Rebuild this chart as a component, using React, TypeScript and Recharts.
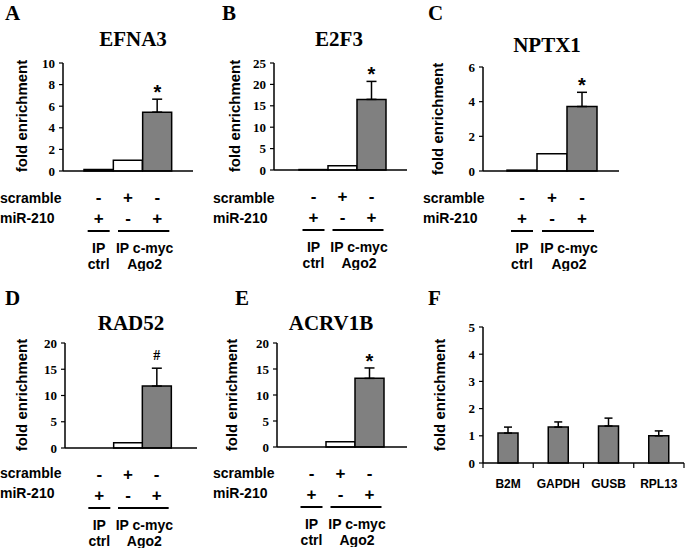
import { BarChart, Bar, XAxis, YAxis, ErrorBar, Cell, ReferenceDot } from "recharts";

// conditions shared by panels A-E
const conditions = ["ctrl", "scramble", "mir210"];
const scrambleSigns = ["-", "+", "-"];
const mirSigns = ["+", "-", "+"];
const groupTop = ["IP", "IP c-myc"];
const groupBottom = ["ctrl", "Ago2"];
const barFills = ["#ffffff", "#ffffff", "#808080"];

const efna3Values = [0.15, 1, 5.45];
const efna3Errors = [null, null, 1.2];
const e2f3Values = [0.1, 1, 16.5];
const e2f3Errors = [null, null, 4.2];
const nptx1Values = [0.05, 1, 3.72];
const nptx1Errors = [null, null, 0.82];
const rad52Values = [0, 1, 11.8];
const rad52Errors = [null, null, 3.4];
const acrv1bValues = [0, 1, 13.2];
const acrv1bErrors = [null, null, 2.0];

// panel F
const controlGenes = ["B2M", "GAPDH", "GUSB", "RPL13"];
const controlValues = [1.1, 1.32, 1.36, 1.0];
const controlErrors = [0.22, 0.19, 0.29, 0.18];

const SERIF = "'Liberation Serif', 'Times New Roman', serif";
const SANS = "'Liberation Sans', Arial, sans-serif";
const AXIS = { stroke: "#000", strokeWidth: 1.5 };
const Y_AXIS_W = 45;

type PanelProps = {
  values: number[];
  errors: (number | null)[];
  mark: string;
  ticks: number[];
  x0: number;
  x1: number;
  yTop: number;
  yBot: number;
  padL: number;
  padR: number;
};

function GeneChart({ values, errors, mark, ticks, x0, x1, yTop, yBot, padL, padR }: PanelProps) {
  const data = conditions.map((c, i) => ({
    cond: c,
    value: values[i],
    err: errors[i] == null ? null : [0, errors[i]],
  }));
  const band = (x1 - x0 - padL - padR) / conditions.length;
  const top = 14;
  const xh = 100;
  const width = Y_AXIS_W + (x1 - x0) + 5;
  const height = yBot - yTop + top + xh;
  const last = data.length - 1;

  const tick = (props: any) => {
    const { x, y, index } = props;
    const tx = { fontFamily: SANS, fontWeight: 700, fontSize: 17, fill: "#000" };
    const gx = { fontFamily: SANS, fontWeight: 700, fontSize: 14, fill: "#000" };
    return (
      <g>
        <text x={x} y={y + 26} textAnchor="middle" dominantBaseline="central" {...tx}>{scrambleSigns[index]}</text>
        <text x={x} y={y + 47} textAnchor="middle" dominantBaseline="central" {...tx}>{mirSigns[index]}</text>
        {index === 0 && (
          <g>
            <line x1={x - 11} x2={x + 11} y1={y + 60} y2={y + 60} stroke="#000" strokeWidth={2} />
            <text x={x} y={y + 77} textAnchor="middle" dominantBaseline="central" {...gx}>{groupTop[0]}</text>
            <text x={x} y={y + 93} textAnchor="middle" dominantBaseline="central" {...gx}>{groupBottom[0]}</text>
          </g>
        )}
        {index === 1 && (
          <g>
            <line x1={x - 10} x2={x + band + 12} y1={y + 60} y2={y + 60} stroke="#000" strokeWidth={2} />
            <text x={x + band / 2 + 2} y={y + 77} textAnchor="middle" dominantBaseline="central" {...gx}>{groupTop[1]}</text>
            <text x={x + band / 2 + 2} y={y + 93} textAnchor="middle" dominantBaseline="central" {...gx}>{groupBottom[1]}</text>
          </g>
        )}
      </g>
    );
  };

  return (
    <div style={{ position: "absolute", left: x0 - Y_AXIS_W, top: yTop - top }}>
      <BarChart width={width} height={height} data={data} margin={{ top, right: 5, left: 0, bottom: 0 }} barCategoryGap={0}>
        <XAxis
          dataKey="cond"
          padding={{ left: padL, right: padR }}
          axisLine={AXIS}
          tickLine={false}
          tickSize={0}
          tickMargin={0}
          interval={0}
          height={xh}
          tick={tick}
        />
        <YAxis
          width={Y_AXIS_W}
          domain={[0, ticks[ticks.length - 1]]}
          ticks={ticks}
          interval={0}
          axisLine={AXIS}
          tickLine={{ stroke: "#000", strokeWidth: 1.2 }}
          tickSize={4}
          tickMargin={4}
          tick={{ fontFamily: SERIF, fontWeight: 700, fontSize: 13, fill: "#000" }}
        />
        <Bar dataKey="value" stroke="#000" strokeWidth={1.5} isAnimationActive={false}>
          {data.map((d, i) => (
            <Cell key={d.cond} fill={barFills[i]} />
          ))}
          <ErrorBar dataKey="err" width={5} stroke="#000" strokeWidth={1.5} direction="y" />
        </Bar>
        <ReferenceDot
          x={conditions[last]}
          y={values[last] + (errors[last] ?? 0)}
          r={0}
          stroke="none"
          label={{
            value: mark,
            position: "top",
            offset: mark === "#" ? 8 : 0,
            fill: "#000",
            fontFamily: mark === "#" ? SERIF : SANS,
            fontWeight: 700,
            fontSize: mark === "#" ? 14 : 20,
          }}
        />
      </BarChart>
    </div>
  );
}

function ControlChart() {
  const data = controlGenes.map((g, i) => ({ gene: g, value: controlValues[i], err: [0, controlErrors[i]] }));
  const x0 = 483;
  const x1 = 684;
  const yTop = 327;
  const yBot = 463;
  const top = 10;
  const xh = 40;
  const band = (x1 - x0) / controlGenes.length;
  const tick = (props: any) => {
    const { x, y, index, payload } = props;
    return (
      <g>
        <line x1={x - band / 2} x2={x - band / 2} y1={y} y2={y + 5} stroke="#000" strokeWidth={1.2} />
        {index === controlGenes.length - 1 && (
          <line x1={x + band / 2} x2={x + band / 2} y1={y} y2={y + 5} stroke="#000" strokeWidth={1.2} />
        )}
        <text x={x} y={y + 21} textAnchor="middle" dominantBaseline="central" fontFamily={SANS} fontWeight={700} fontSize={12} fill="#000">
          {payload.value}
        </text>
      </g>
    );
  };
  return (
    <div style={{ position: "absolute", left: x0 - Y_AXIS_W, top: yTop - top }}>
      <BarChart width={Y_AXIS_W + (x1 - x0) + 1} height={yBot - yTop + top + xh} data={data} margin={{ top, right: 1, left: 0, bottom: 0 }}>
        <XAxis dataKey="gene" axisLine={AXIS} tickLine={false} tickSize={0} tickMargin={0} interval={0} height={xh} tick={tick} />
        <YAxis
          width={Y_AXIS_W}
          domain={[0, 5]}
          ticks={[0, 1, 2, 3, 4, 5]}
          interval={0}
          axisLine={AXIS}
          tickLine={{ stroke: "#000", strokeWidth: 1.2 }}
          tickSize={4}
          tickMargin={4}
          tick={{ fontFamily: SERIF, fontWeight: 700, fontSize: 13, fill: "#000" }}
        />
        <Bar dataKey="value" fill="#808080" stroke="#000" strokeWidth={1.5} barSize={20} isAnimationActive={false}>
          <ErrorBar dataKey="err" width={4} stroke="#000" strokeWidth={1.5} direction="y" />
        </Bar>
      </BarChart>
    </div>
  );
}

const letters = [
  { t: "A", x: 5, y: 20 },
  { t: "B", x: 222, y: 20 },
  { t: "C", x: 428, y: 20 },
  { t: "D", x: 5, y: 305 },
  { t: "E", x: 235, y: 305 },
  { t: "F", x: 428, y: 305 },
];
const titles = [
  { t: "EFNA3", x: 133, y: 46 },
  { t: "E2F3", x: 339, y: 46 },
  { t: "NPTX1", x: 547, y: 52 },
  { t: "RAD52", x: 131, y: 330 },
  { t: "ACRV1B", x: 331, y: 330 },
];
const rowLabels = [
  { x: 0, y: 198 },
  { x: 213, y: 198 },
  { x: 423, y: 198 },
  { x: 0, y: 473 },
  { x: 213, y: 473 },
];
const yLabels = [
  { x: 21, y: 116 },
  { x: 234, y: 116 },
  { x: 437, y: 119 },
  { x: 21, y: 395 },
  { x: 231, y: 395 },
  { x: 439, y: 395 },
];

export default function App() {
  return (
    <div style={{ position: "absolute", left: 0, top: 0, width: 685, height: 549, background: "#fff", overflow: "hidden" }}>
      <GeneChart values={efna3Values} errors={efna3Errors} mark="*" ticks={[0, 2, 4, 6, 8, 10]} x0={63} x1={193} yTop={63} yBot={171} padL={21} padR={21} />
      <GeneChart values={e2f3Values} errors={e2f3Errors} mark="*" ticks={[0, 5, 10, 15, 20, 25]} x0={274} x1={407} yTop={63} yBot={170} padL={25} padR={21} />
      <GeneChart values={nptx1Values} errors={nptx1Errors} mark="*" ticks={[0, 2, 4, 6]} x0={483} x1={619} yTop={67} yBot={171} padL={24} padR={22} />
      <GeneChart values={rad52Values} errors={rad52Errors} mark="#" ticks={[0, 5, 10, 15, 20]} x0={65} x1={197} yTop={343} yBot={448} padL={20} padR={26} />
      <GeneChart values={acrv1bValues} errors={acrv1bErrors} mark="*" ticks={[0, 5, 10, 15, 20]} x0={277} x1={407} yTop={343} yBot={447} padL={20} padR={23} />
      <ControlChart />
      <svg width={685} height={549} style={{ position: "absolute", left: 0, top: 0, pointerEvents: "none" }}>
        {letters.map((l) => (
          <text key={l.t} x={l.x} y={l.y} fontFamily={SERIF} fontWeight={700} fontSize={21} fill="#000">{l.t}</text>
        ))}
        {titles.map((l) => (
          <text key={l.t} x={l.x} y={l.y} textAnchor="middle" fontFamily={SERIF} fontWeight={700} fontSize={21} fill="#000">{l.t}</text>
        ))}
        {rowLabels.map((l, i) => (
          <g key={i} fontFamily={SANS} fontWeight={700} fontSize={14} fill="#000">
            <text x={l.x} y={l.y} dominantBaseline="central">scramble</text>
            <text x={l.x} y={l.y + 20} dominantBaseline="central">miR-210</text>
          </g>
        ))}
        {yLabels.map((l, i) => (
          <text key={i} x={l.x} y={l.y} transform={`rotate(-90 ${l.x} ${l.y})`} textAnchor="middle" dominantBaseline="central" fontFamily={SANS} fontWeight={700} fontSize={15} fill="#000">
            fold enrichment
          </text>
        ))}
      </svg>
    </div>
  );
}
